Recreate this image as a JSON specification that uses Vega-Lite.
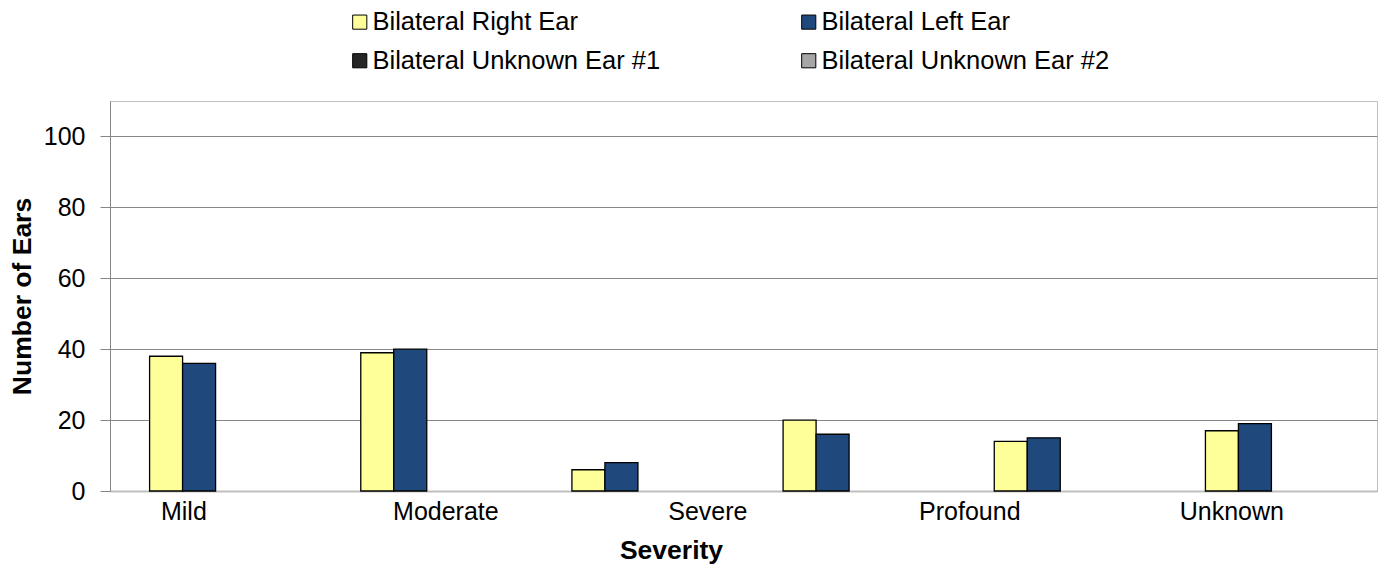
{
  "$schema": "https://vega.github.io/schema/vega-lite/v6.json",
  "autosize": {"type": "none"},
  "padding": {"left": 110, "top": 101, "right": 7, "bottom": 74},
  "width": 1267,
  "height": 390,
  "config": {
    "font": "Liberation Sans",
    "view": {"stroke": "#BFBFBF", "strokeWidth": 1},
    "background": "white"
  },
  "datasets": {
    "bars": [
      {"group": 1, "series": "Bilateral Right Ear", "ears": 38},
      {"group": 1, "series": "Bilateral Left Ear", "ears": 36},
      {"group": 2, "series": "Bilateral Right Ear", "ears": 39},
      {"group": 2, "series": "Bilateral Left Ear", "ears": 40},
      {"group": 3, "series": "Bilateral Right Ear", "ears": 6},
      {"group": 3, "series": "Bilateral Left Ear", "ears": 8},
      {"group": 4, "series": "Bilateral Right Ear", "ears": 20},
      {"group": 4, "series": "Bilateral Left Ear", "ears": 16},
      {"group": 5, "series": "Bilateral Right Ear", "ears": 14},
      {"group": 5, "series": "Bilateral Left Ear", "ears": 15},
      {"group": 6, "series": "Bilateral Right Ear", "ears": 17},
      {"group": 6, "series": "Bilateral Left Ear", "ears": 19}
    ],
    "labels": [
      {"severity": "Mild"},
      {"severity": "Moderate"},
      {"severity": "Severe"},
      {"severity": "Profound"},
      {"severity": "Unknown"}
    ]
  },
  "layer": [
    {
      "data": {"name": "bars"},
      "mark": {"type": "bar", "stroke": "black", "strokeWidth": 1.3},
      "encoding": {
        "x": {
          "field": "group",
          "type": "ordinal",
          "scale": {"paddingInner": 0.375, "paddingOuter": 0.1875},
          "axis": null
        },
        "xOffset": {
          "field": "series",
          "type": "nominal",
          "scale": {
            "domain": ["Bilateral Right Ear", "Bilateral Left Ear", "Bilateral Unknown Ear #1", "Bilateral Unknown Ear #2"],
            "paddingInner": 0,
            "paddingOuter": 0
          }
        },
        "y": {
          "field": "ears",
          "type": "quantitative",
          "scale": {"domain": [0, 110], "nice": false},
          "axis": {
            "title": "Number of Ears",
            "values": [0, 20, 40, 60, 80, 100],
            "grid": true,
            "gridColor": "#868686",
            "gridWidth": 1,
            "domainColor": "#868686",
            "tickColor": "#868686",
            "tickSize": 10,
            "labelPadding": 15,
            "labelFontSize": 25,
            "labelColor": "black",
            "titleFontSize": 26.5,
            "titleFontWeight": "bold",
            "titleColor": "black",
            "titleX": -88,
            "titleY": 195,
            "titleBaseline": "middle",
            "titleAlign": "center"
          }
        },
        "color": {
          "field": "series",
          "type": "nominal",
          "scale": {
            "domain": ["Bilateral Right Ear", "Bilateral Left Ear", "Bilateral Unknown Ear #1", "Bilateral Unknown Ear #2"],
            "range": ["#FFFF99", "#1F497D", "#262626", "#A6A6A6"]
          },
          "legend": {
            "title": null,
            "orient": "none",
            "legendX": 237,
            "legendY": -92,
            "columns": 2,
            "direction": "horizontal",
            "columnPadding": 135,
            "rowPadding": 12,
            "symbolType": "square",
            "symbolSize": 200,
            "symbolStrokeColor": "black",
            "symbolStrokeWidth": 1,
            "symbolOpacity": 1,
            "labelOffset": 0,
            "labelFontSize": 25.5,
            "labelColor": "black",
            "labelLimit": 400
          }
        }
      }
    },
    {
      "data": {"name": "labels"},
      "mark": {"type": "point", "opacity": 0},
      "encoding": {
        "x": {
          "field": "severity",
          "type": "nominal",
          "sort": null,
          "scale": {"type": "point", "padding": 0.418, "align": 0.335},
          "axis": {
            "orient": "bottom",
            "title": "Severity",
            "labelAngle": 0,
            "ticks": false,
            "labelPadding": 8,
            "labelFontSize": 25,
            "labelColor": "black",
            "domainColor": "#BFBFBF",
            "domainWidth": 2,
            "titleFontSize": 26.5,
            "titleFontWeight": "bold",
            "titleColor": "black",
            "titleX": 561,
            "titleY": 46,
            "titleBaseline": "top",
            "titleAlign": "center"
          }
        }
      }
    }
  ],
  "resolve": {"scale": {"x": "independent"}, "axis": {"x": "independent"}}
}
